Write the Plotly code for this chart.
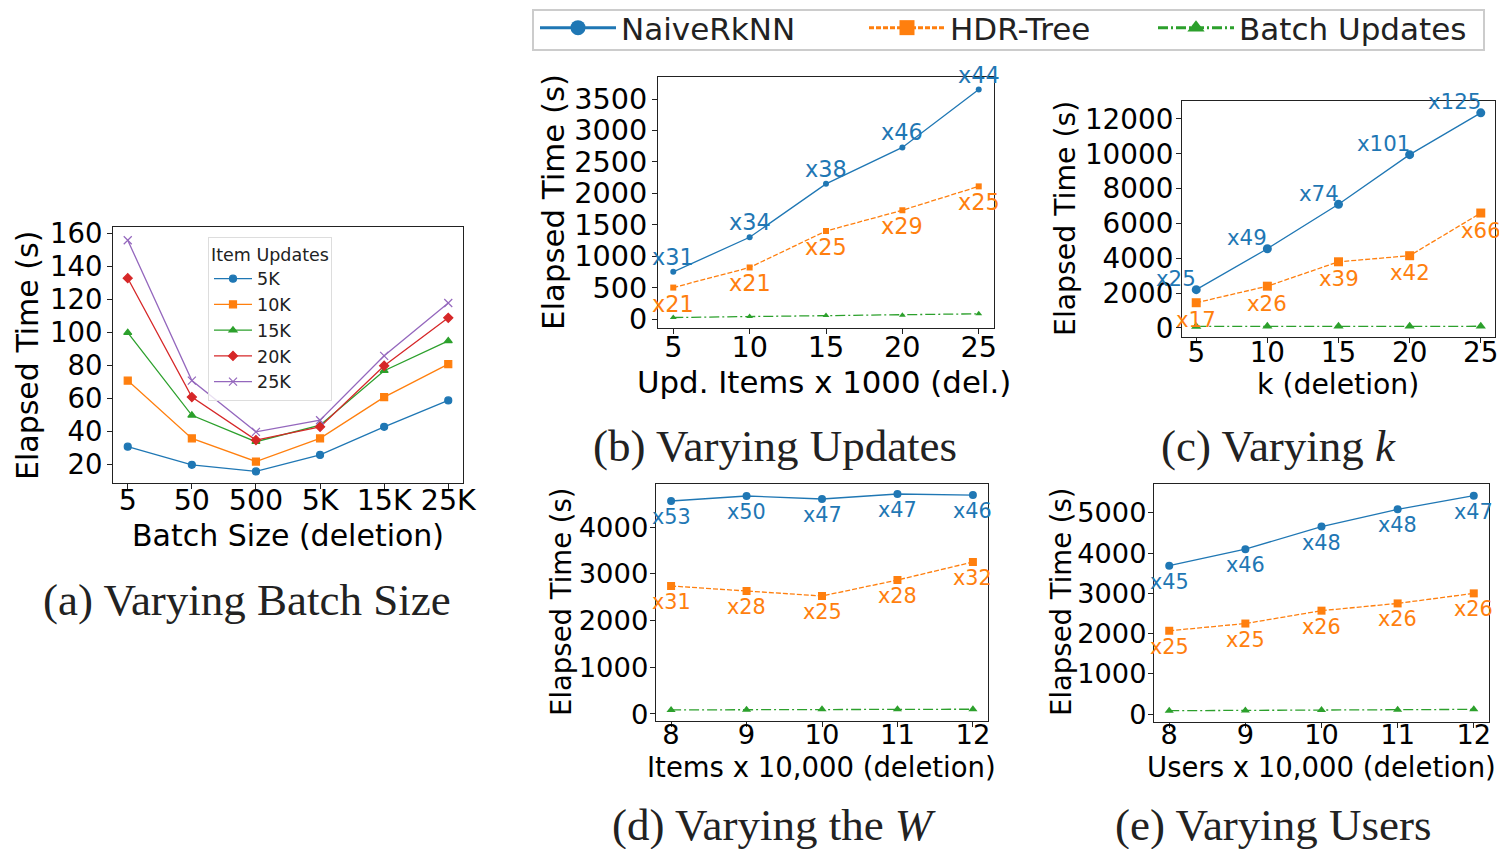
import plotly.graph_objects as go

# ---------------- data ----------------
# (a) Varying batch size
batch_sizes = ["5", "50", "500", "5K", "15K", "25K"]
item_updates = ["5K", "10K", "15K", "20K", "25K"]
a_5k = [31, 20, 16, 26, 43, 59]
a_10k = [71, 36, 22, 36, 61, 81]
a_15k = [100, 50, 34, 44, 77, 95]
a_20k = [133, 61, 35, 43, 80, 109]
a_25k = [156, 71, 40, 47, 86, 118]

# (b) Varying updates
upd_items = [5, 10, 15, 20, 25]
b_naive = [750, 1300, 2150, 2730, 3650]
b_hdr = [500, 820, 1400, 1730, 2110]
b_batch = [24, 39, 56, 60, 83]
b_naive_lbl = ["x31", "x34", "x38", "x46", "x44"]
b_hdr_lbl = ["x21", "x21", "x25", "x29", "x25"]

# (c) Varying k
k_vals = [5, 10, 15, 20, 25]
c_naive = [2200, 4550, 7100, 9950, 12350]
c_hdr = [1450, 2400, 3800, 4150, 6600]
c_batch = [88, 93, 96, 99, 99]
c_naive_lbl = ["x25", "x49", "x74", "x101", "x125"]
c_hdr_lbl = ["x17", "x26", "x39", "x42", "x66"]

# (d) Varying the W (items)
items_vals = [8, 9, 10, 11, 12]
d_naive = [4556, 4663, 4599, 4706, 4684]
d_hdr = [2738, 2631, 2524, 2866, 3251]
d_batch = [87, 93, 99, 101, 102]
d_naive_lbl = ["x53", "x50", "x47", "x47", "x46"]
d_hdr_lbl = ["x31", "x28", "x25", "x28", "x32"]

# (e) Varying users
users_vals = [8, 9, 10, 11, 12]
e_naive = [3690, 4100, 4660, 5090, 5430]
e_hdr = [2070, 2250, 2570, 2750, 3000]
e_batch = [82, 90, 98, 106, 115]
e_naive_lbl = ["x45", "x46", "x48", "x48", "x47"]
e_hdr_lbl = ["x25", "x25", "x26", "x26", "x26"]

method_names = ["NaiveRkNN", "HDR-Tree", "Batch Updates"]

# ---------------- page geometry ----------------
SCREEN_W, SCREEN_H = 1507, 849
OFF = 8                      # default page margin around the figure
W, H = SCREEN_W - OFF, SCREEN_H - OFF

# ---------------- styles ----------------
BLUE, ORANGE, GREEN, RED, PURPLE = "#1f77b4", "#ff7f0e", "#2ca02c", "#d62728", "#9467bd"
SANS = "DejaVu Sans"
SERIF = "Liberation Serif"
method_style = [
    dict(color=BLUE, dash="solid", symbol="circle"),
    dict(color=ORANGE, dash="5px,2px", symbol="square"),
    dict(color=GREEN, dash="10px,3px,2px,3px", symbol="triangle-up"),
]
# per-panel font sizes (tick, axis title, value labels)
FONT_A = (27.5, 30.0, 0)
FONT_B = (28.7, 30.8, 22.4)
FONT_C = (27.8, 28.3, 21.3)
FONT_D = (27.4, 27.5, 20.8)
FONT_E = (27.2, 27.5, 20.8)


def fx(px):
    return (px - OFF) / W


def fy(py):
    return 1 - (py - OFF) / H


fig = go.Figure()

# ---------------- panel (a) ----------------
a_series = [a_5k, a_10k, a_15k, a_20k, a_25k]
a_colors = [BLUE, ORANGE, GREEN, RED, PURPLE]
a_symbols = ["circle", "square", "triangle-up", "diamond", "x-thin-open"]
for name, ys, col, sym in zip(item_updates, a_series, a_colors, a_symbols):
    fig.add_trace(go.Scatter(
        x=batch_sizes, y=ys, name=name, mode="lines+markers",
        line=dict(color=col, width=1.3),
        marker=dict(color=col, symbol=sym, size=7 if sym != "x-thin-open" else 8,
                    line=dict(color=col, width=1.2)),
        xaxis="x", yaxis="y", legend="legend2", showlegend=True,
    ))

# ---------------- panels (b)-(e) ----------------
panels = [
    ("x2", "y2", upd_items, [b_naive, b_hdr, b_batch], 6),
    ("x3", "y3", k_vals, [c_naive, c_hdr, c_batch], 9),
    ("x4", "y4", items_vals, [d_naive, d_hdr, d_batch], 8),
    ("x5", "y5", users_vals, [e_naive, e_hdr, e_batch], 8),
]
for xa, ya, xs, series, msize in panels:
    for name, ys, st in zip(method_names, series, method_style):
        fig.add_trace(go.Scatter(
            x=xs, y=ys, name=name, mode="lines+markers",
            line=dict(color=st["color"], width=1.3, dash=st["dash"]),
            marker=dict(color=st["color"], symbol=st["symbol"], size=msize),
            xaxis=xa, yaxis=ya, showlegend=False,
        ))

# legend-only entries for the shared top legend (one legend per entry)
top_legends = ["legend", "legend3", "legend4"]
for name, st, lg in zip(method_names, method_style, top_legends):
    fig.add_trace(go.Scatter(
        x=[None], y=[None], name=name, mode="lines+markers",
        line=dict(color=st["color"], width=3, dash=st["dash"]),
        marker=dict(color=st["color"], symbol=st["symbol"], size=15),
        xaxis="x2", yaxis="y2", legend=lg, showlegend=True,
    ))

# ---------------- ratio labels ----------------
annotations = []


def add_labels(xref, yref, xs, ys, labels, color, size, xanchor="center", xshift=0, yshift=0):
    for x, y, t in zip(xs, ys, labels):
        annotations.append(dict(
            x=x, y=y, xref=xref, yref=yref, text=t, showarrow=False,
            xanchor=xanchor, yanchor="middle", xshift=xshift, yshift=yshift,
            font=dict(family=SANS, size=size, color=color),
        ))


add_labels("x2", "y2", upd_items, b_naive, b_naive_lbl, BLUE, FONT_B[2], yshift=15)
add_labels("x2", "y2", upd_items, b_hdr, b_hdr_lbl, ORANGE, FONT_B[2], yshift=-16)
add_labels("x3", "y3", k_vals, c_naive, c_naive_lbl, BLUE, FONT_C[2], xanchor="right", xshift=2, yshift=11)
add_labels("x3", "y3", k_vals, c_hdr, c_hdr_lbl, ORANGE, FONT_C[2], yshift=-17)
add_labels("x4", "y4", items_vals, d_naive, d_naive_lbl, BLUE, FONT_D[2], yshift=-16)
add_labels("x4", "y4", items_vals, d_hdr, d_hdr_lbl, ORANGE, FONT_D[2], yshift=-16)
add_labels("x5", "y5", users_vals, e_naive, e_naive_lbl, BLUE, FONT_E[2], yshift=-16)
add_labels("x5", "y5", users_vals, e_hdr, e_hdr_lbl, ORANGE, FONT_E[2], yshift=-16)


# ---------------- axis titles & captions ----------------
def title_ann(text, px, py, size, angle=0):
    annotations.append(dict(
        x=fx(px), y=fy(py), xref="paper", yref="paper", text=text, showarrow=False,
        xanchor="center", yanchor="middle", textangle=angle,
        font=dict(family=SANS, size=size, color="black"),
    ))


def caption(text, px, py):
    annotations.append(dict(
        x=fx(px), y=fy(py), xref="paper", yref="paper", text=text, showarrow=False,
        xanchor="center", yanchor="middle",
        font=dict(family=SERIF, size=45, color="#222"),
    ))


title_ann("Elapsed Time (s)", 28, 356, FONT_A[1], -90)
title_ann("Batch Size (deletion)", 288, 535, FONT_A[1])
title_ann("Elapsed Time (s)", 553, 202, FONT_B[1], -90)
title_ann("Upd. Items x 1000 (del.)", 824, 382, FONT_B[1])
title_ann("Elapsed Time (s)", 1066, 219, FONT_C[1], -90)
title_ann("k (deletion)", 1338, 384, FONT_C[1])
title_ann("Elapsed Time (s)", 561, 602, FONT_D[1], -90)
title_ann("Items x 10,000 (deletion)", 821, 767, FONT_D[1])
title_ann("Elapsed Time (s)", 1061, 602, FONT_E[1], -90)
title_ann("Users x 10,000 (deletion)", 1321, 767, FONT_E[1])

caption("(a) Varying Batch Size", 247, 600)
caption("(b) Varying Updates", 775, 446)
caption("(c) Varying <i>k</i>", 1278, 446)
caption("(d) Varying the <i>W</i>", 774, 825)
caption("(e) Varying Users", 1273, 825)


# ---------------- axes ----------------
def axis(domain, rng, anchor, tickvals=None, tsize=28, standoff=0, **kw):
    d = dict(domain=domain, range=rng, anchor=anchor, showline=True, mirror=True,
             linecolor="#222", linewidth=1.2, ticks="outside", ticklen=5, tickwidth=1.2,
             tickcolor="#222", showgrid=False, zeroline=False, automargin=False,
             ticklabelstandoff=standoff,
             tickfont=dict(family=SANS, size=tsize, color="black"))
    if tickvals is not None:
        d["tickmode"] = "array"
        d["tickvals"] = tickvals
    d.update(kw)
    return d


legend_common = dict(
    orientation="h", xanchor="left", yanchor="middle",
    font=dict(family=SANS, size=31, color="#222"),
    borderwidth=0, bgcolor="rgba(0,0,0,0)", itemwidth=76,
)
layout = dict(
    width=W, height=H, margin=dict(l=0, r=0, t=0, b=0, autoexpand=False),
    plot_bgcolor="white", paper_bgcolor="white",
    annotations=annotations,
    xaxis=axis([fx(113), fx(463)], [-0.23, 5.23], "y", tsize=28.5, standoff=-13, type="category"),
    yaxis=axis([fy(483), fy(227)], [9, 164], "x", list(range(20, 161, 20)), tsize=FONT_A[0], standoff=-1),
    xaxis2=axis([fx(658), fx(994)], [4, 26], "y2", upd_items, tsize=FONT_B[0], standoff=-12),
    yaxis2=axis([fy(328), fy(77)], [-143, 3850], "x2", list(range(0, 3501, 500)), tsize=FONT_B[0],
                standoff=-1, tickformat="d"),
    xaxis3=axis([fx(1182), fx(1495)], [4, 26], "y3", k_vals, tsize=FONT_C[0], standoff=-14),
    yaxis3=axis([fy(337), fy(101)], [-517, 13030], "x3", list(range(0, 12001, 2000)), tsize=FONT_C[0],
                standoff=-3, tickformat="d"),
    xaxis4=axis([fx(656), fx(988)], [7.8, 12.2], "y4", items_vals, tsize=FONT_D[0], standoff=-16),
    yaxis4=axis([fy(721), fy(484)], [-150, 4920], "x4", list(range(0, 4001, 1000)), tsize=FONT_D[0],
                standoff=-4, tickformat="d"),
    xaxis5=axis([fx(1154), fx(1489)], [7.8, 12.2], "y5", users_vals, tsize=FONT_E[0], standoff=-17),
    yaxis5=axis([fy(722), fy(484)], [-199, 5720], "x5", list(range(0, 5001, 1000)), tsize=FONT_E[0],
                standoff=-4, tickformat="d"),
    legend=dict(x=fx(535), y=fy(28), **legend_common),
    legend3=dict(x=fx(864), y=fy(28), **legend_common),
    legend4=dict(x=fx(1153), y=fy(28), **legend_common),
    legend2=dict(
        orientation="v", x=fx(208), y=fy(237), xanchor="left", yanchor="top",
        font=dict(family=SANS, size=17.5, color="#222"),
        title=dict(text="Item Updates", side="top center", font=dict(family=SANS, size=17.5)),
        bordercolor="#dddddd", borderwidth=1, bgcolor="rgba(255,255,255,0.8)", itemwidth=38,
    ),
    shapes=[dict(
        type="rect", xref="paper", yref="paper",
        x0=fx(533), x1=fx(1484), y0=fy(50), y1=fy(10),
        line=dict(color="#cccccc", width=2), fillcolor="rgba(0,0,0,0)", layer="below",
    )],
)
fig.update_layout(**layout)

fig.write_html("out.html")
